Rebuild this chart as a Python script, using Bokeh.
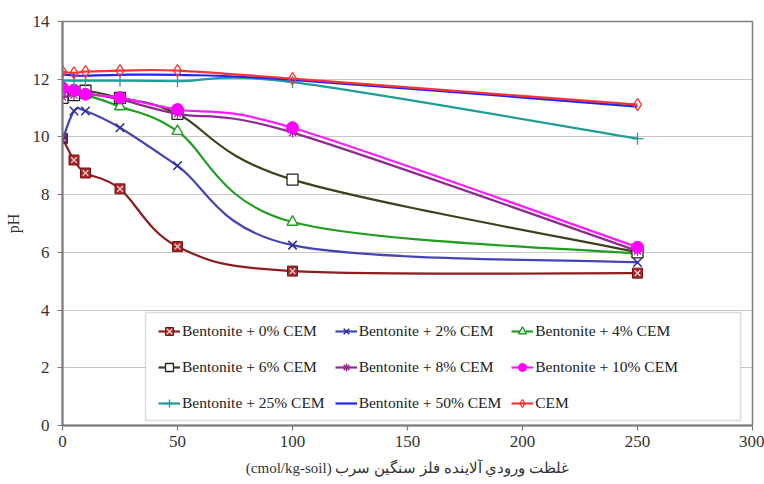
from bokeh.plotting import figure
from bokeh.models import Legend, LegendItem, Range1d, FixedTicker, BoxAnnotation
from bokeh.embed import file_html
from bokeh.resources import INLINE

# ---- data ----
x_vals = [0, 5, 10, 25, 50, 100, 250]
series_names = ["Bentonite + 0% CEM", "Bentonite + 2% CEM", "Bentonite + 4% CEM",
                "Bentonite + 6% CEM", "Bentonite + 8% CEM", "Bentonite + 10% CEM",
                "Bentonite + 25% CEM", "Bentonite + 50% CEM", "CEM"]
ph_0 = [9.95, 9.2, 8.75, 8.2, 6.2, 5.35, 5.28]
ph_2 = [9.9, 10.9, 10.9, 10.32, 9.0, 6.25, 5.65]
ph_4 = [11.3, 11.45, 11.45, 11.05, 10.2, 7.05, 5.95]
ph_6 = [11.35, 11.45, 11.6, 11.35, 10.8, 8.52, 6.0]
ph_8 = [11.38, 11.45, 11.5, 11.3, 10.8, 10.15, 6.05]
ph_10 = [11.7, 11.62, 11.48, 11.36, 10.95, 10.32, 6.18]
ph_25 = [11.95, 11.95, 11.95, 11.95, 11.93, 11.9, 9.94]
ph_50 = [12.17, 12.13, 12.12, 12.15, 12.15, 11.98, 11.05]
ph_cem = [12.26, 12.22, 12.26, 12.3, 12.3, 12.02, 11.12]
y_ticks = [0, 2, 4, 6, 8, 10, 12, 14]
x_ticks = [0, 50, 100, 150, 200, 250, 300]

all_series = [ph_0, ph_2, ph_4, ph_6, ph_8, ph_10, ph_25, ph_50, ph_cem]

SERIF = "Liberation Serif"

p = figure(width=764, height=484, output_backend="svg", toolbar_location=None,
           x_range=Range1d(0, 300), y_range=Range1d(0, 14),
           min_border_left=62, min_border_right=12, min_border_top=21, min_border_bottom=59)
p.background_fill_color = "white"
p.border_fill_color = "white"
p.outline_line_color = "#808080"
p.outline_line_width = 1.5

p.xgrid.visible = False
p.ygrid.grid_line_color = "#8c8c8c"
p.ygrid.grid_line_dash = "1 1"
p.ygrid.grid_line_width = 1

p.yaxis.ticker = FixedTicker(ticks=y_ticks)
p.xaxis.ticker = FixedTicker(ticks=x_ticks)
for ax in (p.xaxis, p.yaxis):
    ax.axis_line_color = "#7a7a7a"
    ax.axis_line_width = 2
    ax.major_tick_line_color = "#7a7a7a"
    ax.major_tick_line_width = 1.2
    ax.major_tick_out = 5
    ax.major_tick_in = 0
    ax.minor_tick_line_color = None
    ax.major_label_text_font = SERIF
    ax.major_label_text_font_size = "17px"
    ax.major_label_text_color = "#333333"
    ax.axis_label_text_font_style = "normal"
    ax.axis_label_text_color = "#333333"
p.yaxis.major_label_standoff = 8
p.xaxis.major_label_standoff = 5
p.yaxis.axis_label = "pH"
p.yaxis.axis_label_text_font = SERIF
p.yaxis.axis_label_text_font_size = "16px"
p.yaxis.axis_label_standoff = 8
p.xaxis.axis_label = "(cmol/kg-soil) غلظت ورودي آلاينده فلز سنگين سرب"
p.xaxis.axis_label_text_font = SERIF
p.xaxis.axis_label_text_font_size = "15px"
p.xaxis.axis_label_standoff = 10


def bezier_parts(xs, ys):
    n = len(xs)
    out = dict(x0=[], y0=[], x1=[], y1=[], cx0=[], cy0=[], cx1=[], cy1=[])
    for i in range(n - 1):
        a = i - 1 if i > 0 else i
        d = i + 2 if i + 2 < n else i + 1
        out["x0"].append(xs[i]); out["y0"].append(ys[i])
        out["x1"].append(xs[i + 1]); out["y1"].append(ys[i + 1])
        out["cx0"].append(xs[i] + (xs[i + 1] - xs[a]) / 6)
        out["cy0"].append(ys[i] + (ys[i + 1] - ys[a]) / 6)
        out["cx1"].append(xs[i + 1] - (xs[d] - xs[i]) / 6)
        out["cy1"].append(ys[i + 1] - (ys[d] - ys[i]) / 6)
    return out


line_colors = ["#8b1e1e", "#4444b4", "#1f9e1f", "#40401c", "#8e2b8e",
               "#ff1aff", "#1f9c9c", "#2222ff", "#ff3333"]

items = []
for idx, (name, ys, lc) in enumerate(zip(series_names, all_series, line_colors)):
    b = bezier_parts(x_vals, ys)
    curve = p.bezier(line_color=lc, line_width=2.2, **b)
    rends = [curve]
    if idx == 0:
        rends.append(p.scatter(x_vals, ys, marker="square", size=10, fill_color="#a3282a",
                               line_color="#7a1414", line_width=1))
        rends.append(p.scatter(x_vals, ys, marker="x", size=8, line_color="#f6cccc",
                               line_width=1.3))
    elif idx == 1:
        rends.append(p.scatter(x_vals, ys, marker="x", size=12, line_color="#2b2b9c",
                               line_width=1.5))
    elif idx == 2:
        rends.append(p.scatter(x_vals, ys, marker="triangle", size=11, fill_color="white",
                               line_color="#1f9e1f", line_width=1.4))
    elif idx == 3:
        rends.append(p.scatter(x_vals, ys, marker="square", size=11, fill_color="white",
                               line_color="#222222", line_width=1.3))
    elif idx == 4:
        rends.append(p.scatter(x_vals, ys, marker="asterisk", size=10, line_color="#8e2b8e",
                               line_width=1.3))
    elif idx == 5:
        rends.append(p.scatter(x_vals, ys, marker="circle", size=12, fill_color="#ff00ff",
                               line_color="#ff00ff", line_width=1))
    elif idx == 6:
        rends.append(p.scatter(x_vals, ys, marker="cross", size=12, line_color="#1f9c9c",
                               line_width=1.3))
    elif idx == 8:
        rends.append(p.scatter(x_vals, ys, marker="diamond", size=12, fill_color=None,
                               line_color="#ff3333", line_width=1.3))
    items.append(LegendItem(label=name, renderers=rends))

legend_box = BoxAnnotation(left=36.1, right=294.8, bottom=0.17, top=3.92,
                           fill_color="white", fill_alpha=1.0,
                           line_color="#8c8c8c", line_width=1.5)
p.add_layout(legend_box)

legend = Legend(items=items, location=(96, 9), orientation="horizontal", ncols=3,
                label_text_font=SERIF, label_text_font_size="15.5px",
                label_text_color="#222222",
                glyph_width=22, glyph_height=20, label_height=26, label_width=100,
                label_standoff=2, spacing=10, padding=0, margin=0,
                border_line_color=None, background_fill_alpha=0)
p.add_layout(legend)

open("out.html", "w").write(file_html(p, INLINE))
